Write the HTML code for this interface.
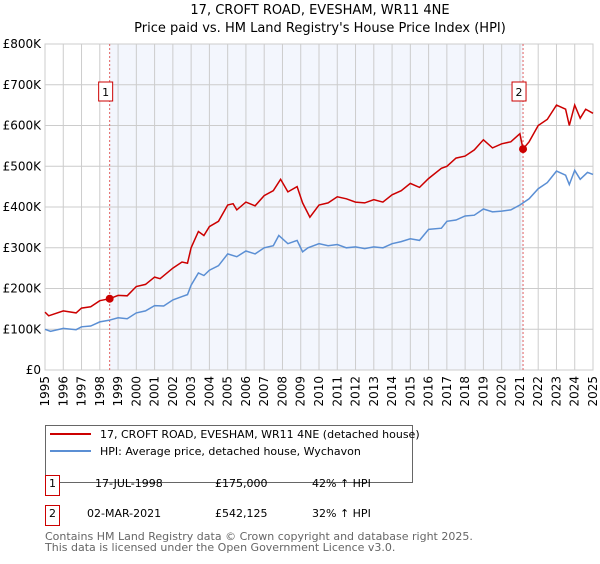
<!DOCTYPE html>
<html><head><meta charset="utf-8"><style>
body{margin:0;background:#fff;font-family:"DejaVu Sans","Liberation Sans",sans-serif;}
svg text{font-family:"DejaVu Sans","Liberation Sans",sans-serif;}
</style></head><body>
<svg id="chart" width="600" height="560" xmlns="http://www.w3.org/2000/svg">
<text x="320" y="14" text-anchor="middle" font-size="13">17, CROFT ROAD, EVESHAM, WR11 4NE</text>
<text x="320" y="32" text-anchor="middle" font-size="13">Price paid vs. HM Land Registry's House Price Index (HPI)</text>
<g id="plot"></g>
<g>
<rect x="45.5" y="425.5" width="367" height="57" fill="#fff" stroke="#666"/>
<line x1="50" y1="434" x2="91" y2="434" stroke="#cc0000" stroke-width="2"/>
<text x="100" y="438" font-size="11">17, CROFT ROAD, EVESHAM, WR11 4NE (detached house)</text>
<line x1="50" y1="451" x2="91" y2="451" stroke="#5b8fd4" stroke-width="2"/>
<text x="100" y="455" font-size="11">HPI: Average price, detached house, Wychavon</text>
</g>
<g font-size="11">
<rect x="45.5" y="475.5" width="14" height="20" fill="#fff" stroke="#cc0000"/>
<text x="52.5" y="487" text-anchor="middle">1</text>
<text x="95" y="487">17-JUL-1998</text><text x="215" y="487">£175,000</text><text x="312" y="487">42% ↑ HPI</text>
<rect x="45.5" y="505.5" width="14" height="20" fill="#fff" stroke="#cc0000"/>
<text x="52.5" y="517" text-anchor="middle">2</text>
<text x="87" y="517">02-MAR-2021</text><text x="215" y="517">£542,125</text><text x="312" y="517">32% ↑ HPI</text>
</g>
<text x="45" y="540" font-size="11" fill="#666">Contains HM Land Registry data © Crown copyright and database right 2025.</text>
<text x="45" y="551" font-size="11" fill="#666">This data is licensed under the Open Government Licence v3.0.</text>
</svg>
<script>
const yTicks=[0,100,200,300,400,500,600,700,800];
const yTickLabels=["£0","£100K","£200K","£300K","£400K","£500K","£600K","£700K","£800K"];
const years=[1995,1996,1997,1998,1999,2000,2001,2002,2003,2004,2005,2006,2007,2008,2009,2010,2011,2012,2013,2014,2015,2016,2017,2018,2019,2020,2021,2022,2023,2024,2025];
const saleDates=[1998.54,2021.17];
const salePrices=[175,542.125];
const saleLabels=["1","2"];
const hpiT=[1995,1995.3,1996,1996.7,1997,1997.5,1998,1998.5,1999,1999.5,2000,2000.5,2001,2001.5,2002,2002.5,2002.8,2003,2003.4,2003.7,2004,2004.5,2005,2005.5,2006,2006.5,2007,2007.5,2007.8,2008.3,2008.8,2009.1,2009.4,2010,2010.5,2011,2011.5,2012,2012.5,2013,2013.5,2014,2014.5,2015,2015.5,2016,2016.7,2017,2017.5,2018,2018.5,2019,2019.5,2020,2020.5,2021,2021.5,2022,2022.5,2023,2023.5,2023.7,2024,2024.3,2024.7,2025];
const hpiV=[100,95,102,99,106,108,118,122,128,126,140,145,158,157,172,180,185,208,238,232,245,256,285,278,292,285,300,305,330,310,318,290,300,310,305,308,300,302,298,302,300,310,315,322,318,345,348,365,368,378,380,395,388,390,393,405,420,445,460,488,478,455,490,468,485,480];
const redT=[1995,1995.2,1996,1996.7,1997,1997.5,1998,1998.54,1999,1999.5,2000,2000.5,2001,2001.3,2002,2002.5,2002.8,2003,2003.4,2003.7,2004,2004.5,2005,2005.3,2005.5,2006,2006.5,2007,2007.5,2007.9,2008.3,2008.8,2009.1,2009.5,2010,2010.5,2011,2011.5,2012,2012.5,2013,2013.5,2014,2014.5,2015,2015.5,2016,2016.7,2017,2017.5,2018,2018.5,2019,2019.5,2020,2020.5,2021,2021.17,2021.5,2022,2022.5,2023,2023.5,2023.7,2024,2024.3,2024.6,2025];
const redV=[142,133,145,140,152,155,170,175,183,182,205,210,228,224,250,265,262,300,340,330,352,365,405,408,393,412,403,428,440,468,437,450,410,375,405,410,425,420,412,410,418,412,430,440,458,448,470,495,500,520,525,540,565,545,555,560,580,542,560,600,615,650,640,600,650,618,640,630];
const L=45,R=593,T=44,B=370,x0=1995,x1=2025;
const X=t=>L+(t-x0)/(x1-x0)*(R-L);
const Y=v=>B-v/800*(B-T);
const NS="http://www.w3.org/2000/svg";
const g=document.getElementById('plot');
function mk(tag,attrs,parent){const e=document.createElementNS(NS,tag);for(const k in attrs)e.setAttribute(k,attrs[k]);(parent||g).appendChild(e);return e;}
const band=mk('rect',{x:X(saleDates[0]),y:T,width:X(saleDates[1])-X(saleDates[0]),height:B-T,fill:'#f3f6fd'});


yTicks.forEach((v,i)=>{
 const l=mk('line',{x1:L,x2:R,y1:Y(v),y2:Y(v),stroke:'#cccccc'});
 
 
 const t=mk('text',{x:L-4,y:Y(v)+4,'text-anchor':'end','font-size':'12'});
 t.textContent=yTickLabels[i];
 
 
});
years.forEach(yr=>{
 const l=mk('line',{x1:X(yr),x2:X(yr),y1:T,y2:B,stroke:'#cccccc'});
 
 
 const t=mk('text',{x:0,y:0,'font-size':'12','text-anchor':'end',transform:`translate(${X(yr)+4},${B+6}) rotate(-90)`});
 t.textContent=yr;
 
 
});
const ax=mk('rect',{x:L,y:T,width:R-L,height:B-T,fill:'none',stroke:'#cccccc'});


saleDates.forEach((d,i)=>{
 const l=mk('line',{x1:X(d),x2:X(d),y1:T,y2:B,stroke:'#e06060','stroke-dasharray':'2,2'});
 
 
 const r=mk('rect',{x:X(d)-11,y:82,width:14,height:19,fill:'#fff',stroke:'#cc0000'});
 
 
 const t=mk('text',{x:X(d)-4,y:96,'text-anchor':'middle','font-size':'11'});
 t.textContent=saleLabels[i];
 
 
});
const hp=mk('path',{d:hpiT.map((t,i)=>(i?'L':'M')+X(t).toFixed(1)+','+Y(hpiV[i]).toFixed(1)).join(''),fill:'none',stroke:'#5b8fd4','stroke-width':1.5});


const rp=mk('path',{d:redT.map((t,i)=>(i?'L':'M')+X(t).toFixed(1)+','+Y(redV[i]).toFixed(1)).join(''),fill:'none',stroke:'#cc0000','stroke-width':1.5});


saleDates.forEach((d,i)=>{
 const c=mk('circle',{cx:X(d),cy:Y(salePrices[i]),r:4,fill:'#cc0000'});
 
 
});
</script>
</body></html>
